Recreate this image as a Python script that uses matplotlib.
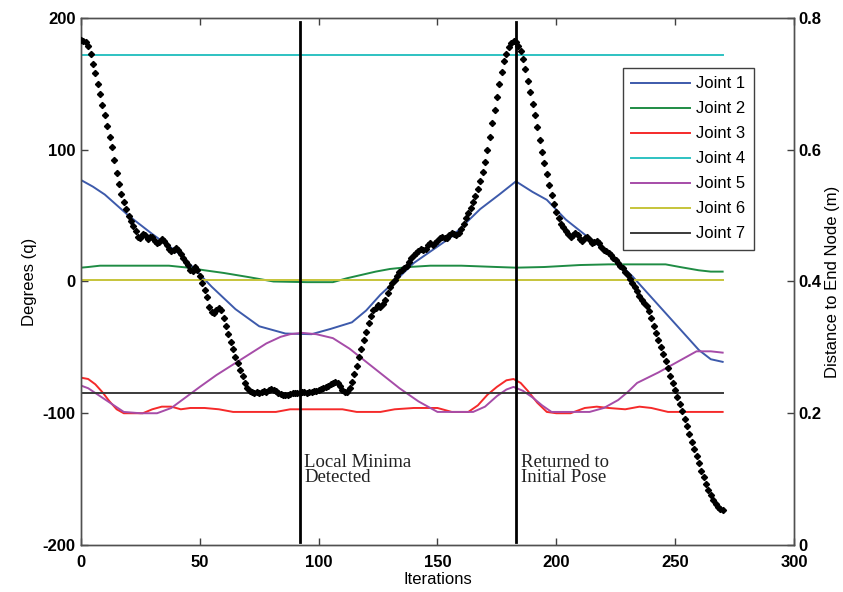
import numpy as np
import matplotlib
matplotlib.use('Agg')
import matplotlib.pyplot as plt

plt.rcParams['font.family'] = ['Liberation Sans', 'DejaVu Sans']
plt.rcParams['axes.unicode_minus'] = False

# joint angles (degrees) at selected iterations
j1_x = [0, 5, 10, 20, 30, 40, 47, 55, 65, 75, 86, 97, 105, 114, 120, 126, 132, 140, 148, 156,
        168, 176, 183, 190, 196, 204, 211, 218, 225, 232, 239, 246, 253, 260, 265, 270]
j1_y = [77, 72, 66, 50, 36, 23, 11, -4, -21, -34, -39.5, -40, -36, -31, -22, -10, 0, 14, 24, 34,
        55, 66, 76, 68, 62, 47, 37, 27, 16, 4, -10, -24, -38, -52, -59, -61]

j2_x = [0, 3, 8, 37, 45, 52, 60, 70, 81, 95, 106, 112, 118, 124, 130, 138, 147, 160, 175, 183,
        195, 210, 222, 246, 252, 260, 265, 270]
j2_y = [10.5, 11, 12, 12, 10.5, 8.5, 6.5, 3.5, 0, -0.5, -0.5, 2.5, 5, 7.5, 9.5, 11, 12, 12, 11, 10.5,
        11, 12.5, 13, 13, 11, 8.5, 7.5, 7.5]

j3_x = [0, 3, 6, 9, 12, 15, 18, 22, 26, 30, 34, 38, 42, 46, 52, 58, 64, 82, 88, 110, 116, 126,
        132, 140, 150, 156, 163, 167, 171, 175, 179, 182, 185, 188, 192, 196, 200, 206, 212, 217,
        222, 229, 235, 240, 247, 255, 262, 270]
j3_y = [-73, -74, -78, -84, -91, -97, -100, -100, -100, -97, -95, -95, -97, -96, -96, -97, -99, -99,
        -97, -97, -99, -99, -97, -96, -96, -99, -99, -94, -86, -80, -75, -74, -77, -83, -92, -99,
        -100, -100, -96, -95, -96, -97, -95, -96, -99, -99, -99, -99]

j4_x = [0, 270]
j4_y = [172, 172]

j5_x = [0, 3, 8, 13, 18, 25, 32, 38, 44, 50, 57, 64, 71, 78, 84, 88, 93, 99, 106, 113, 120, 127,
        134, 142, 150, 165, 170, 175, 179, 182, 186, 190, 194, 198, 214, 220, 226, 230, 234, 243,
        250, 255, 259, 265, 270]
j5_y = [-79, -81, -87, -93, -99, -100, -100, -96, -88, -80, -71, -63, -55, -47, -42, -40, -39, -40,
        -43, -51, -61, -71, -81, -91, -99, -99, -95, -87, -82, -80, -83, -88, -94, -99, -99, -96,
        -90, -84, -77, -69, -62, -57, -53, -53, -54]

j6_x = [0, 270]
j6_y = [1, 1]

j7_x = [0, 270]
j7_y = [-85, -85]

# distance to end node (m), one value per iteration 0..270
dist = [
    0.767, 0.765, 0.763, 0.757, 0.745, 0.730, 0.717, 0.700, 0.684, 0.668,
    0.652, 0.636, 0.620, 0.604, 0.585, 0.565, 0.548, 0.533, 0.520, 0.510,
    0.500, 0.492, 0.484, 0.476, 0.468, 0.466, 0.472, 0.470, 0.464, 0.468,
    0.467, 0.462, 0.458, 0.460, 0.464, 0.462, 0.456, 0.450, 0.446, 0.448,
    0.451, 0.448, 0.442, 0.436, 0.430, 0.425, 0.418, 0.416, 0.422, 0.418,
    0.408, 0.398, 0.387, 0.376, 0.362, 0.354, 0.352, 0.356, 0.360, 0.356,
    0.345, 0.332, 0.320, 0.308, 0.297, 0.286, 0.276, 0.266, 0.256, 0.246,
    0.238, 0.234, 0.232, 0.231, 0.232, 0.231, 0.233, 0.234, 0.233, 0.235,
    0.237, 0.236, 0.234, 0.231, 0.229, 0.228, 0.227, 0.227, 0.229, 0.230,
    0.231, 0.230, 0.231, 0.232, 0.232, 0.231, 0.233, 0.233, 0.234, 0.234,
    0.235, 0.237, 0.239, 0.240, 0.242, 0.244, 0.246, 0.247, 0.246, 0.242,
    0.236, 0.232, 0.232, 0.238, 0.248, 0.260, 0.272, 0.285, 0.298, 0.311,
    0.324, 0.337, 0.348, 0.356, 0.360, 0.364, 0.362, 0.366, 0.372, 0.382,
    0.392, 0.398, 0.402, 0.408, 0.414, 0.418, 0.421, 0.424, 0.430, 0.436,
    0.440, 0.444, 0.447, 0.450, 0.448, 0.450, 0.455, 0.458, 0.456, 0.458,
    0.462, 0.466, 0.468, 0.466, 0.466, 0.470, 0.474, 0.472, 0.470, 0.474,
    0.480, 0.488, 0.496, 0.504, 0.512, 0.521, 0.530, 0.540, 0.552, 0.566,
    0.582, 0.600, 0.620, 0.640, 0.660, 0.680, 0.700, 0.718, 0.734, 0.746,
    0.756, 0.762, 0.765, 0.763, 0.758, 0.750, 0.738, 0.722, 0.705, 0.688,
    0.670, 0.652, 0.634, 0.615, 0.597, 0.580, 0.563, 0.547, 0.532, 0.518,
    0.506, 0.496, 0.488, 0.482, 0.476, 0.472, 0.468, 0.470, 0.474, 0.470,
    0.464, 0.462, 0.466, 0.468, 0.463, 0.458, 0.460, 0.462, 0.458, 0.452,
    0.448, 0.446, 0.444, 0.440, 0.436, 0.432, 0.428, 0.424, 0.420, 0.415,
    0.410, 0.404, 0.398, 0.392, 0.386, 0.378, 0.372, 0.368, 0.363, 0.355,
    0.344, 0.333, 0.322, 0.311, 0.300, 0.290, 0.280, 0.268, 0.256, 0.246,
    0.236, 0.225, 0.214, 0.203, 0.192, 0.180, 0.168, 0.157, 0.146, 0.135,
    0.124, 0.113, 0.103, 0.093, 0.084, 0.076, 0.068, 0.062, 0.057, 0.055,
    0.053,
]
iters = np.arange(len(dist))

events_x = [92, 183]
events_txt = ['Local Minima\nDetected', 'Returned to\nInitial Pose']

colors = ['#3d5aab', '#1f8c44', '#f52a2a', '#2ec2c2', '#a64ca8', '#c6c43a', '#3a3a3a']

fig = plt.figure(figsize=(8.43, 5.92), dpi=100)
ax = fig.add_axes([0.0961, 0.0794, 0.8457, 0.8902])
ax2 = ax.twinx()

series = [(j1_x, j1_y), (j2_x, j2_y), (j3_x, j3_y), (j4_x, j4_y),
          (j5_x, j5_y), (j6_x, j6_y), (j7_x, j7_y)]
handles = []
for i, (xs, ys) in enumerate(series):
    h, = ax.plot(xs, ys, color=colors[i], lw=1.4, label='Joint %d' % (i + 1))
    handles.append(h)

ax2.plot(iters, dist, 'D', color='k', ms=3.1, mec='k', zorder=3)

for xe, txt in zip(events_x, events_txt):
    ax.axvline(xe, ymin=0.006, ymax=0.992, color='k', lw=2.0, zorder=5)
    ax.text(xe + 2, -131, txt, family=['Liberation Serif', 'DejaVu Serif'],
            fontsize=13.5, va='top', ha='left', linespacing=0.82, color='#222222')

ax.set_xlim(0, 300)
ax.set_ylim(-200, 200)
ax.set_xticks(np.arange(0, 301, 50))
ax.set_yticks(np.arange(-200, 201, 100))
ax2.set_ylim(0, 0.8)
ax2.set_yticks([0, 0.2, 0.4, 0.6, 0.8])
ax2.set_yticklabels(['0', '0.2', '0.4', '0.6', '0.8'])

ax.tick_params(direction='in', length=5, width=1, top=True, right=False,
               labelsize=12, colors='#404040', labelcolor='k')
ax.tick_params(axis='x', pad=7)
ax.tick_params(axis='y', pad=4)
ax2.tick_params(direction='in', length=5, width=1, labelsize=12, pad=3,
                colors='#404040', labelcolor='k')
for lab in ax.get_xticklabels() + ax.get_yticklabels() + ax2.get_yticklabels():
    lab.set_fontweight('bold')

for a in (ax, ax2):
    for sp in a.spines.values():
        sp.set_color('#505050')
        sp.set_linewidth(1.0)

ax.set_xlabel('Iterations', fontsize=12, labelpad=2)
ax.set_ylabel('Degrees (q)', fontsize=12, labelpad=4)
ax2.set_ylabel('Distance to End Node (m)', fontsize=12, labelpad=3)

leg = ax2.legend(handles=handles, loc='upper right', bbox_to_anchor=(0.944, 0.905),
                 borderaxespad=0, fancybox=False, fontsize=12, handlelength=3.5,
                 handletextpad=0.4, labelspacing=0.6, borderpad=0.5, framealpha=1)
leg.get_frame().set_edgecolor('#404040')
leg.get_frame().set_linewidth(1.0)

fig.savefig('out.png', dpi=100)
